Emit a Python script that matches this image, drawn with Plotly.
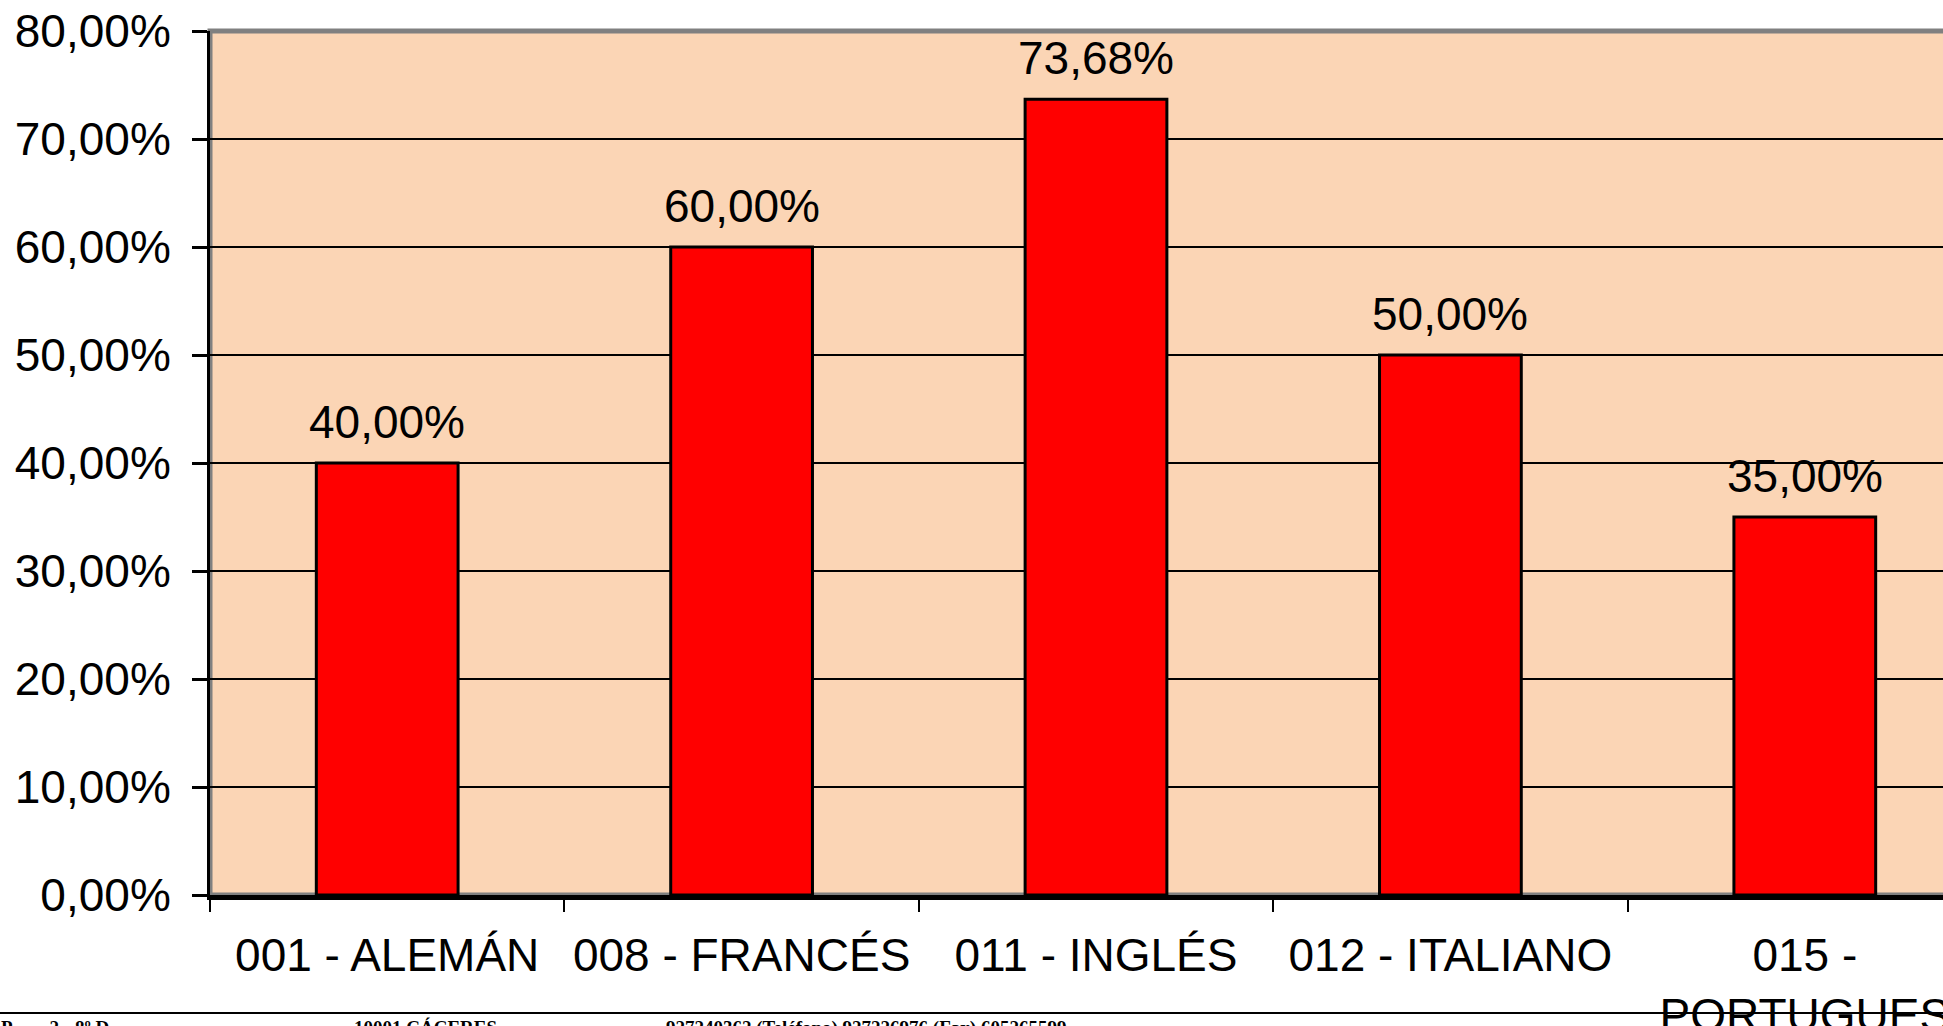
import plotly.graph_objects as go

categories = ["001 - ALEMÁN", "008 - FRANCÉS", "011 - INGLÉS", "012 - ITALIANO", "015 -<br>PORTUGUES"]
values = [0.40, 0.60, 0.7368, 0.50, 0.35]
y_ticks = [0, 0.1, 0.2, 0.3, 0.4, 0.5, 0.6, 0.7, 0.8]
footer_texts = ["P        2 - 8º D", "10001 CÁCERES", "927240362 (Teléfono) 927226976 (Fax) 605265599"]
footer_x = [0, 353, 665]

W, H = 1943, 1026
L, T, B = 210, 31, 131
plot_w = W - L
plot_h = H - T - B
cat_w = 354.4

FONT = "Arial, Liberation Sans, sans-serif"
FS = 46

fig = go.Figure()
fig.add_trace(go.Bar(
    x=categories, y=values, width=0.40,
    marker=dict(color="#FF0000", line=dict(color="#000000", width=3)),
    showlegend=False, hoverinfo="skip",
))

def fmt(v):
    return f"{v*100:.2f}%".replace(".", ",")

for c, v in zip(categories, values):
    fig.add_annotation(x=c, y=v, text=fmt(v), showarrow=False, yanchor="bottom",
                       yshift=13, font=dict(family=FONT, size=FS, color="#000"))

# plot area gray border
fig.add_shape(type="rect", xref="paper", yref="paper", x0=0, x1=1.05, y0=0, y1=1,
              line=dict(color="#808080", width=5), layer="below")
# footer line
fy = -(1013 - (H - B)) / plot_h
fig.add_shape(type="line", xref="paper", yref="paper",
              x0=-L / plot_w, x1=1.0, y0=fy, y1=fy,
              line=dict(color="#000", width=2))
for t, x in zip(footer_texts, footer_x):
    fig.add_annotation(xref="paper", yref="paper", x=(x - L) / plot_w, xanchor="left",
                       y=-(1016 - (H - B)) / plot_h, yanchor="top", text=f"<b>{t}</b>",
                       showarrow=False, borderpad=0,
                       font=dict(family="Liberation Serif, Times New Roman, serif", size=19, color="#000"))

x_max = 4.5 - (L + 5 * cat_w - W) / cat_w

fig.update_layout(
    width=W, height=H,
    margin=dict(l=L, r=0, t=T, b=B, autoexpand=False),
    paper_bgcolor="#FFFFFF", plot_bgcolor="#FBD5B5",
    separators=",.",
    font=dict(family=FONT, size=FS, color="#000"),
    xaxis=dict(
        type="category", categoryorder="array", categoryarray=categories,
        range=[-0.5, x_max], tickson="boundaries", ticks="outside", ticklen=12, tickwidth=2,
        tickcolor="#000", showline=True, linecolor="#000", linewidth=5, showgrid=False,
        zeroline=False, tickfont=dict(family=FONT, size=FS, color="#000"),
        ticklabelstandoff=16, ticklabeloverflow="allow", automargin=False, fixedrange=True,
    ),
    yaxis=dict(
        range=[0, 0.8], tickmode="array", tickvals=y_ticks, tickformat=".2%",
        ticks="outside", ticklen=15, tickwidth=3, tickcolor="#000",
        showline=True, linecolor="#000", linewidth=3, showgrid=True, gridcolor="#000",
        gridwidth=2, zeroline=False, tickfont=dict(family=FONT, size=FS, color="#000"),
        ticklabelstandoff=12, automargin=False, fixedrange=True,
    ),
)

fig.write_html("out.html", config={"displayModeBar": False},
               post_script="document.body.style.margin='0';document.body.style.overflow='hidden';")
